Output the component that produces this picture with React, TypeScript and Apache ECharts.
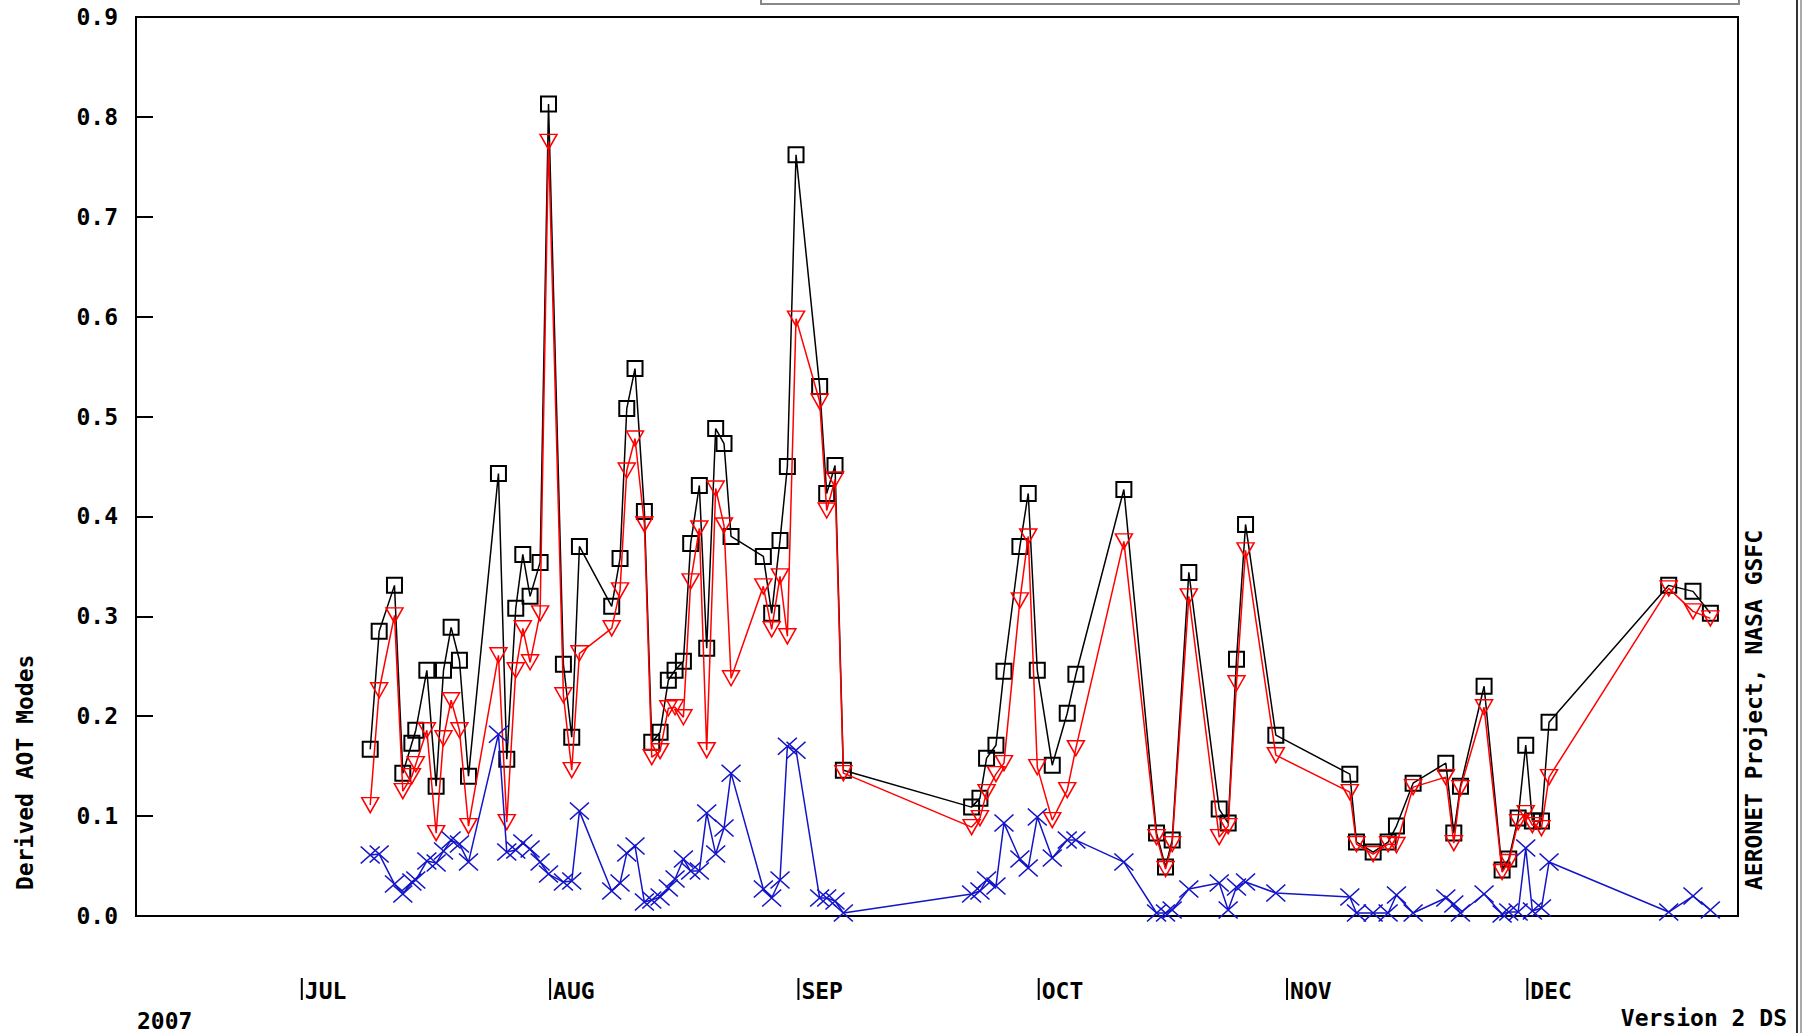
import React, { useEffect, useRef } from "react";
import * as echarts from "echarts";

// Day of year (2007) for each daily retrieval
const days = [
  190.54, 191.66, 193.57, 194.61, 195.74, 196.23, 197.61, 198.77, 199.69, 200.64,
  201.68, 202.81, 206.55, 207.59, 208.71, 209.59, 210.5, 211.75, 212.8, 214.66,
  215.7, 216.66, 220.69, 221.73, 222.57, 223.6, 224.77, 225.69, 226.73, 227.76,
  228.6, 229.64, 230.55, 231.63, 232.55, 233.67, 234.71, 235.59, 239.62, 240.66,
  241.7, 242.62, 243.7, 246.65, 247.53, 248.57, 249.61, 265.62, 266.66, 267.49,
  268.66, 269.66, 271.65, 272.69, 273.82, 275.69, 277.56, 278.64, 284.63, 288.71,
  289.83, 290.66, 292.74, 296.53, 297.65, 298.69, 299.82, 303.6, 312.84, 313.67,
  315.75, 317.62, 318.66, 320.74, 324.82, 325.82, 326.65, 329.6, 331.85, 332.68,
  333.85, 334.8, 335.63, 336.76, 337.71, 352.65, 355.68, 357.85,
];

// Total AOT
const totalAOT = [
  0.167, 0.285, 0.331, 0.143, 0.173, 0.186, 0.246, 0.13, 0.246, 0.289,
  0.256, 0.14, 0.443, 0.157, 0.308, 0.362, 0.32, 0.354, 0.813, 0.252,
  0.179, 0.37, 0.31, 0.358, 0.508, 0.548, 0.405, 0.174, 0.184, 0.236,
  0.246, 0.255, 0.373, 0.431, 0.268, 0.488, 0.473, 0.38, 0.36, 0.303,
  0.376, 0.45, 0.762, 0.53, 0.423, 0.451, 0.146, 0.109, 0.118, 0.158,
  0.171, 0.245, 0.37, 0.423, 0.246, 0.151, 0.203, 0.242, 0.427, 0.083,
  0.049, 0.076, 0.344, 0.107, 0.093, 0.257, 0.392, 0.181, 0.142, 0.074,
  0.064, 0.074, 0.09, 0.133, 0.153, 0.083, 0.13, 0.23, 0.046, 0.057,
  0.098, 0.171, 0.095, 0.095, 0.194, 0.331, 0.325, 0.303,
];

// Fine mode AOT
const fineAOT = [
  0.111, 0.226, 0.301, 0.125, 0.14, 0.152, 0.186, 0.083, 0.178, 0.216,
  0.186, 0.09, 0.261, 0.094, 0.246, 0.288, 0.254, 0.303, 0.775, 0.221,
  0.146, 0.263, 0.288, 0.326, 0.446, 0.478, 0.392, 0.159, 0.165, 0.208,
  0.209, 0.199, 0.335, 0.388, 0.166, 0.428, 0.391, 0.238, 0.33, 0.287,
  0.34, 0.28, 0.598, 0.515, 0.406, 0.437, 0.143, 0.089, 0.098, 0.124,
  0.142, 0.153, 0.316, 0.38, 0.149, 0.096, 0.126, 0.168, 0.375, 0.079,
  0.047, 0.072, 0.32, 0.079, 0.09, 0.233, 0.366, 0.161, 0.124, 0.072,
  0.062, 0.072, 0.071, 0.129, 0.139, 0.073, 0.128, 0.209, 0.044, 0.054,
  0.094, 0.103, 0.091, 0.088, 0.139, 0.328, 0.305, 0.298,
];

// Coarse mode AOT
const coarseAOT = [
  0.061, 0.062, 0.032, 0.022, 0.034, 0.036, 0.055, 0.053, 0.065, 0.076,
  0.072, 0.054, 0.182, 0.064, 0.066, 0.073, 0.067, 0.054, 0.042, 0.034,
  0.035, 0.105, 0.025, 0.033, 0.063, 0.07, 0.014, 0.016, 0.019, 0.028,
  0.037, 0.057, 0.045, 0.045, 0.103, 0.062, 0.088, 0.143, 0.027, 0.018,
  0.036, 0.17, 0.166, 0.018, 0.018, 0.015, 0.003, 0.022, 0.025, 0.036,
  0.03, 0.093, 0.057, 0.048, 0.099, 0.058, 0.076, 0.076, 0.054, 0.003,
  0.003, 0.006, 0.027, 0.033, 0.006, 0.029, 0.034, 0.023, 0.019, 0.003,
  0.003, 0.003, 0.021, 0.003, 0.018, 0.012, 0.003, 0.022, 0.002, 0.004,
  0.004, 0.068, 0.005, 0.008, 0.054, 0.004, 0.02, 0.006,
];

// Month starts (day of year) and their labels
const monthStarts = [182, 213, 244, 274, 305, 335];
const monthNames = ["JUL", "AUG", "SEP", "OCT", "NOV", "DEC"];

const DAY_MIN = 161.3;
const DAY_MAX = 361.3;

const FONT = "'DejaVu Sans Mono', 'Liberation Mono', monospace";
const BLUE = "#1414c8";

const pairs = (ys: number[]) => days.map((d, i) => [d, ys[i]]);

export default function App() {
  const ref = useRef<HTMLDivElement>(null);

  useEffect(() => {
    if (!ref.current) return;
    const chart = echarts.init(ref.current, undefined, { renderer: "svg" });

    const textStyle = {
      fontFamily: FONT,
      fontWeight: "bold" as const,
      fontSize: 23,
      fill: "#000",
    };

    chart.setOption({
      animation: false,
      backgroundColor: "#fff",
      grid: {
        left: 136,
        right: 67,
        top: 17,
        bottom: 117,
        show: true,
        borderColor: "#000",
        borderWidth: 2,
      },
      xAxis: [
        {
          type: "value",
          min: DAY_MIN,
          max: DAY_MAX,
          axisLine: { show: true, onZero: false, lineStyle: { color: "#000", width: 2 } },
          axisTick: { show: false },
          axisLabel: { show: false },
          splitLine: { show: false },
        },
        {
          // month labels, each led by a short marker bar at the month start
          type: "value",
          min: DAY_MIN,
          max: DAY_MAX,
          position: "bottom",
          offset: 62,
          axisLine: { show: false },
          axisTick: { show: false },
          axisLabel: {
            customValues: monthStarts,
            formatter: (v: number) => {
              const name = monthNames[monthStarts.indexOf(Math.round(v))];
              return name ? `{bar|}{t|${name}}` : "";
            },
            align: "left",
            verticalAlign: "middle",
            margin: 11,
            padding: [0, 0, 0, -1],
            rich: {
              bar: { width: 2, height: 22, backgroundColor: "#000" },
              t: {
                color: "#000",
                fontFamily: FONT,
                fontWeight: "bold",
                fontSize: 23,
                lineHeight: 22,
                padding: [4, 0, 0, 2],
              },
            },
          },
          splitLine: { show: false },
        },
      ],
      yAxis: {
        type: "value",
        min: 0,
        max: 0.9,
        interval: 0.1,
        axisLine: { show: true, onZero: false, lineStyle: { color: "#000", width: 2 } },
        axisTick: { show: true, inside: true, length: 17, lineStyle: { color: "#000", width: 2 } },
        axisLabel: {
          formatter: (v: number) => v.toFixed(1),
          margin: 18,
          color: "#000",
          fontFamily: FONT,
          fontWeight: "bold",
          fontSize: 23,
        },
        splitLine: { show: false },
      },
      series: [
        {
          name: "Total",
          type: "line",
          data: pairs(totalAOT),
          showSymbol: true,
          showAllSymbol: true,
          symbol: "rect",
          symbolSize: 15,
          lineStyle: { color: "#000", width: 1.5 },
          itemStyle: { color: "rgba(0,0,0,0)", borderColor: "#000", borderWidth: 2 },
          z: 2,
        },
        {
          name: "Fine",
          type: "line",
          data: pairs(fineAOT),
          showSymbol: true,
          showAllSymbol: true,
          symbol: "triangle",
          symbolRotate: 180,
          symbolSize: [17, 15],
          lineStyle: { color: "#ff0000", width: 1.5 },
          itemStyle: { color: "rgba(0,0,0,0)", borderColor: "#ff0000", borderWidth: 1.5 },
          z: 3,
        },
        {
          name: "Coarse",
          type: "line",
          data: pairs(coarseAOT),
          showSymbol: true,
          showAllSymbol: true,
          symbol: "path://M0,0L10,10M10,0L0,10",
          symbolSize: [19, 17],
          lineStyle: { color: BLUE, width: 1.5 },
          itemStyle: { color: "rgba(0,0,0,0)", borderColor: BLUE, borderWidth: 1.5 },
          z: 4,
        },
      ],
      graphic: [
        {
          type: "rect",
          shape: { x: 761, y: -10, width: 978, height: 14 },
          style: { fill: "none", stroke: "#888", lineWidth: 2 },
          silent: true,
        },
        {
          type: "line",
          shape: { x1: 1797, y1: 0, x2: 1797, y2: 1033 },
          style: { stroke: "#333", lineWidth: 2 },
          silent: true,
        },
        {
          type: "line",
          shape: { x1: 1801, y1: 0, x2: 1801, y2: 1033 },
          style: { stroke: "#555", lineWidth: 1 },
          silent: true,
        },
        {
          type: "text",
          x: 25,
          y: 890,
          rotation: Math.PI / 2,
          style: { ...textStyle, text: "Derived AOT Modes", align: "left", verticalAlign: "middle" },
          silent: true,
        },
        {
          type: "text",
          x: 1754,
          y: 890,
          rotation: Math.PI / 2,
          style: { ...textStyle, text: "AERONET Project, NASA GSFC", align: "left", verticalAlign: "middle" },
          silent: true,
        },
        {
          type: "text",
          x: 137,
          y: 1021,
          style: { ...textStyle, text: "2007", align: "left", verticalAlign: "middle" },
          silent: true,
        },
        {
          type: "text",
          x: 1787,
          y: 1018,
          style: { ...textStyle, text: "Version 2 DS", align: "right", verticalAlign: "middle" },
          silent: true,
        },
      ],
    });

    return () => chart.dispose();
  }, []);

  return (
    <div
      ref={ref}
      style={{ position: "fixed", left: 0, top: 0, width: 1805, height: 1033, background: "#fff" }}
    />
  );
}
